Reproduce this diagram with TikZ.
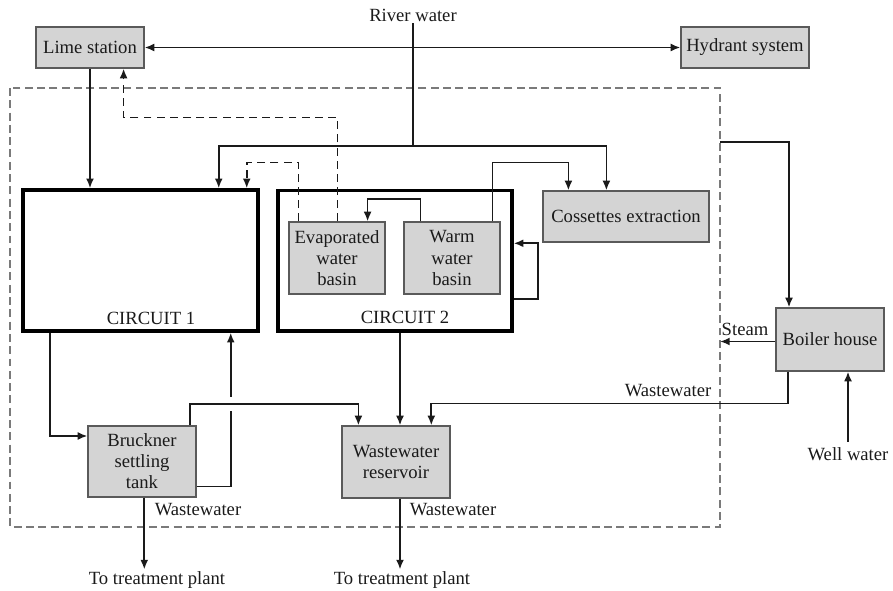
\documentclass[tikz,border=0pt]{standalone}
\usepackage{fontspec}
\setmainfont{Liberation Serif}
\usetikzlibrary{arrows.meta,calc,positioning}
\definecolor{BoxFill}{HTML}{D4D4D4}
\definecolor{BoxEdge}{HTML}{5A5A5A}
\definecolor{Ink}{HTML}{1A1A1A}
\definecolor{Frame}{HTML}{7A7A7A}

\tikzset{
  unit/.style={draw=BoxEdge, fill=BoxFill, line width=0.7pt, align=center, inner sep=0pt, text=Ink},
  circuit/.style={draw=black, line width=2pt, inner sep=0pt},
  pipe/.style={Ink, line width=1pt},
  flow/.style={pipe, ->},
  dashflow/.style={pipe, ->, dash pattern=on 4.5pt off 3pt},
  frame/.style={Frame, line width=0.7pt, dash pattern=on 4.5pt off 2.5pt},
  tag/.style={text=Ink, inner sep=1pt},
}

\begin{document}
\begin{tikzpicture}[x=0.02cm, y=-0.02cm, >={Latex[length=5.5pt,width=4.5pt]}, font=\fontsize{10.6}{12}\selectfont]
    \useasboundingbox (0,0) rectangle (893,591);

    % Plant boundary
    \draw[frame] (10,88) rectangle (720,527);
    \coordinate (boilerfeed) at (720,142);
    \coordinate (steamin) at (720,341.5);

    % Supply side
    \node[tag] (river) at (413,15) {River water};
    \coordinate (rsplit) at (413,146);
    \node[unit, minimum width=2.16cm, minimum height=0.82cm] (lime) at (90,47.5) {Lime station};
    \node[unit, minimum width=2.56cm, minimum height=0.82cm] (hydrant) at (745,47.5) {Hydrant system};

    % Circuits
    \node[circuit, minimum width=4.7cm, minimum height=2.82cm] (circ1) at (140.5,260.5) {};
    \node[circuit, minimum width=4.68cm, minimum height=2.81cm] (circ2) at (395,260.7) {};
    \node[tag] (c1label) at (151,318) {CIRCUIT 1};
    \node[tag] (c2label) at (405,317) {CIRCUIT 2};

    % Basins and units
    \node[unit, minimum width=1.92cm, minimum height=1.44cm] (evap) at (337,258) {Evaporated\\water\\basin};
    \node[unit, minimum width=1.92cm, minimum height=1.44cm] (warm) at (452,258) {Warm\\water\\basin};
    \node[unit, minimum width=3.32cm, minimum height=1.02cm] (coss) at (626,216.5) {Cossettes extraction};
    \node[unit, minimum width=2.16cm, minimum height=1.26cm] (boiler) at (830,339.5) {Boiler house};
    \node[unit, minimum width=2.16cm, minimum height=1.42cm] (bruck) at (142,461.5) {Bruckner\\settling\\tank};
    \node[unit, minimum width=2.16cm, minimum height=1.44cm] (reserv) at (396,462) {Wastewater\\reservoir};

    % Labels
    \node[tag] (steam) at (745,329) {Steam};
    \node[tag] (bwaste) at (668,391) {Wastewater};
    \node[tag] (well) at (848,454) {Well water};
    \node[tag] (waste1) at (198,510) {Wastewater};
    \node[tag] (waste2) at (453,510) {Wastewater};
    \node[tag] (treat1) at (157,580) {To treatment plant};
    \node[tag] (treat2) at (402,580) {To treatment plant};

    % River water distribution
    \draw[flow, <->] (lime) -- (hydrant);
    \draw[pipe] (river) -- (rsplit);
    \draw[flow] (rsplit) -| ($(circ1.north east)+(-41,0)$);
    \draw[flow] (rsplit) -| ($(coss.north west)+(64,0)$);
    \draw[flow] (lime) -- (lime |- circ1.north);

    % Inside circuit 2
    \draw[flow] ($(warm.north east)+(-8,0)$) -- ++(0,-59) -| ($(coss.north west)+(26,0)$);
    \draw[flow] ($(warm.north west)+(17,0)$) -- ++(0,-22.5) -| ($(evap.north east)+(-18,0)$);
    \draw[flow] ($(circ2.south east)+(0,-34)$) -- ++(24,0) |- ($(circ2.east)+(0,-17.4)$);

    % Evaporated water returns
    \draw[dashflow] ($(evap.north west)+(49,0)$) -- ++(0,-104) -| ($(lime.south east)+(-21,0)$);
    \draw[dashflow] ($(evap.north west)+(10,0)$) -- ++(0,-59) -| ($(circ1.north east)+(-13,0)$);

    % Boiler house
    \draw[flow] (boilerfeed) -| ($(boiler.north west)+(13.6,0)$);
    \draw[flow] (boiler.west |- steamin) -- (steamin);
    \draw[flow] ([yshift=2pt]well.north) -- (well.north |- boiler.south);
    \draw[flow] ($(boiler.south west)+(12.6,0)$) -- ++(0,32) -| ($(reserv.north east)+(-19.3,0)$);

    % Circuit 1 and settling tank
    \draw[flow] ($(circ1.south west)+(28.7,0)$) |- ($(bruck.west)+(0,-25.5)$);
    \draw[flow] ($(bruck.south east)+(0,-11)$) -| ($(circ1.south east)+(-29,0)$);
    \fill[white] (225,397) rectangle (233,411);
    \draw[flow] ($(bruck.north east)+(-6.7,0)$) -- ++(0,-21.7) -| ($(reserv.north west)+(17,0)$);
    \draw[flow] ($(circ2.south)+(5,0)$) -- ($(reserv.north)+(4,0)$);

    % To treatment plant
    \draw[flow] ($(bruck.south)+(2.3,0)$) -- ($(bruck.south |- treat1.north)+(2.3,0)$);
    \draw[flow] ($(reserv.south)+(4,0)$) -- ($(reserv.south |- treat2.north)+(4,0)$);

\end{tikzpicture}
\end{document}
